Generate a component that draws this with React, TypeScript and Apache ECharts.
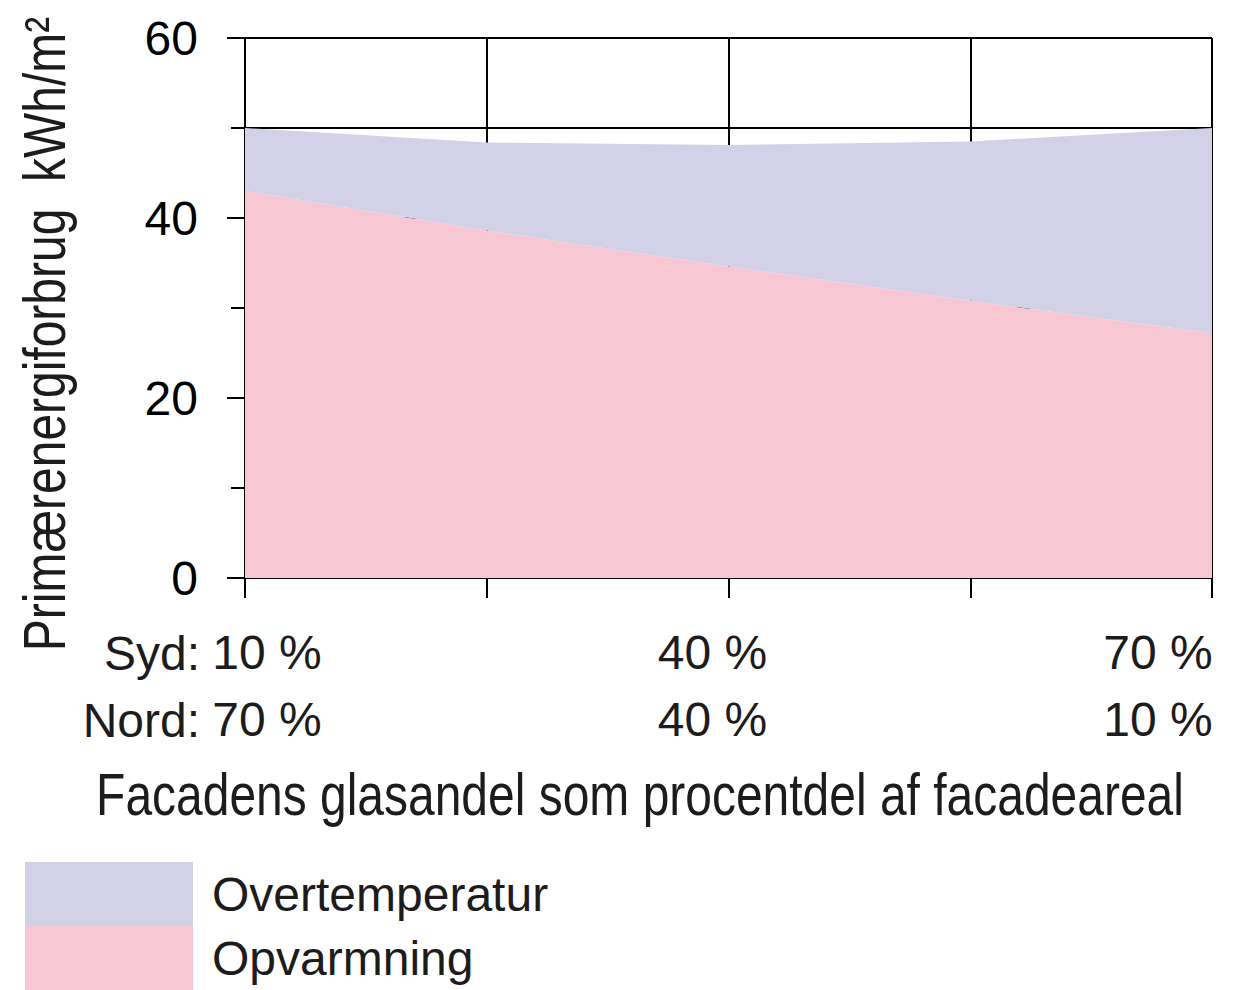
import React, { useEffect, useRef } from "react";
import * as echarts from "echarts";

// ---- data ----
const categories = ["10", "25", "40", "55", "70"]; // Syd glass share (%)
const sydLabels = ["10 %", "", "40 %", "", "70 %"];
const nordLabels = ["70 %", "", "40 %", "", "10 %"];
const opvarmning = [43.0, 38.6, 34.6, 30.8, 27.2];
const overtemperatur = [7.0, 9.8, 13.5, 17.7, 22.8];
const yLabelled = [0, 20, 40, 60];
const rowHeaders = ["Syd:", "Nord:"];
const legendOrder = ["Overtemperatur", "Opvarmning"];
const xTitle = "Facadens glasandel som procentdel af facadeareal";
const yTitle = "Primærenergiforbrug  kWh/m²";

// ---- layout / style ----
const FONT = "'Liberation Sans', Arial, sans-serif";
const FS = 48;
const TITLE_FS = 58.5;
const NARROW = 0.82;
const PINK = "#f7c8d4";
const LAVENDER = "#d3d1e7";
const INK = "#1d1b1c";
const labelShift = [22, 0, -16, 0, -54];
const legendLift = [18, 0];

export default function App() {
  const ref = useRef<HTMLDivElement>(null);
  useEffect(() => {
    if (!ref.current) return;
    const chart = echarts.init(ref.current, undefined, { renderer: "svg" });
    const line = { color: "#000", width: 2 };
    chart.setOption({
      animation: false,
      backgroundColor: "#fff",
      grid: { left: 245, right: 32, top: 38, bottom: 412, containLabel: false, outerBoundsMode: "none" },
      legend: {
        data: legendOrder.map((n, i) => ({
          name: n,
          textStyle: { lineHeight: 40, padding: [0, 0, legendLift[i], 14] },
        })),
        orient: "vertical",
        left: 25,
        top: 862,
        icon: "rect",
        itemWidth: 168,
        itemHeight: 64,
        itemGap: 0,
        padding: 0,
        selectedMode: false,
        itemStyle: { borderWidth: 0 },
        textStyle: { fontSize: FS, fontFamily: FONT, color: INK, lineHeight: 40, padding: [0, 0, 0, 14] },
      },
      xAxis: {
        type: "category",
        boundaryGap: false,
        data: categories.map((c, i) => ({
          value: c,
          textStyle: {
            padding: labelShift[i] >= 0 ? [0, 0, 0, 2 * labelShift[i]] : [0, -2 * labelShift[i], 0, 0],
          },
        })),
        axisLine: { show: true, lineStyle: line },
        axisTick: { show: true, length: 20, interval: 0, lineStyle: line },
        axisLabel: {
          interval: 0,
          hideOverlap: false,
          formatter: (_v: string, i: number) => (sydLabels[i] ? sydLabels[i] + "\n" + nordLabels[i] : ""),
          fontSize: FS,
          lineHeight: 67,
          margin: 41,
          color: INK,
          fontFamily: FONT,
          align: "center",
        },
        splitLine: { show: true, interval: 0, lineStyle: line },
      },
      yAxis: [
        {
          type: "value",
          min: 0,
          max: 60,
          interval: 10,
          axisLine: { show: true, lineStyle: line },
          axisTick: { show: true, length: 14, lineStyle: line },
          axisLabel: {
            formatter: (v: number) => (yLabelled.includes(v) ? String(v) : ""),
            fontSize: FS,
            margin: 47,
            color: "#000",
            fontFamily: FONT,
          },
          splitLine: { show: true, lineStyle: line },
        },
        {
          type: "value",
          position: "left",
          min: 0,
          max: 60,
          interval: 20,
          axisLine: { show: false },
          axisTick: { show: true, length: 18, lineStyle: line },
          axisLabel: { show: false },
          splitLine: { show: false },
        },
      ],
      series: [
        {
          name: "Opvarmning",
          type: "line",
          stack: "total",
          data: opvarmning,
          color: PINK,
          symbol: "none",
          lineStyle: { width: 0 },
          areaStyle: { color: PINK, opacity: 1 },
        },
        {
          name: "Overtemperatur",
          type: "line",
          stack: "total",
          data: overtemperatur,
          color: LAVENDER,
          symbol: "none",
          lineStyle: { width: 0 },
          areaStyle: { color: LAVENDER, opacity: 1 },
        },
      ],
      graphic: [
        ...rowHeaders.map((t, i) => ({
          type: "text",
          x: 200,
          y: 653 + i * 67,
          style: { text: t, fontSize: FS, fontFamily: FONT, fill: INK, align: "right", verticalAlign: "middle" },
        })),
        {
          type: "text",
          x: 640,
          y: 795,
          scaleX: NARROW,
          style: { text: xTitle, fontSize: TITLE_FS, fontFamily: FONT, fill: INK, align: "center", verticalAlign: "middle" },
        },
        {
          type: "text",
          x: 45,
          y: 334,
          rotation: Math.PI / 2,
          scaleX: NARROW,
          style: { text: yTitle, fontSize: TITLE_FS, fontFamily: FONT, fill: INK, align: "center", verticalAlign: "middle" },
        },
      ],
    });
    return () => chart.dispose();
  }, []);
  return <div ref={ref} style={{ position: "fixed", left: 0, top: 0, width: 1244, height: 990 }} />;
}
